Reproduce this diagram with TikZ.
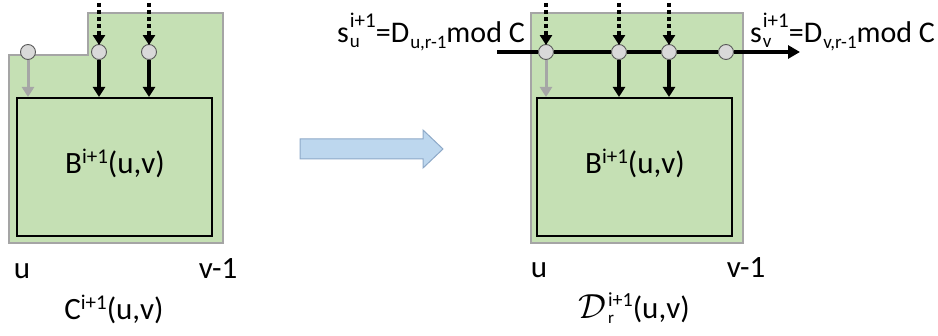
\documentclass[tikz,border=0pt]{standalone}
\usepackage{graphicx}
\usepackage{fontspec}
\setmainfont{Carlito}
\usetikzlibrary{arrows.meta}
\definecolor{grn}{HTML}{C5E0B4}
\definecolor{grnedge}{HTML}{A5A5A5}
\definecolor{circfill}{HTML}{D9D9D9}
\definecolor{circedge}{HTML}{595959}
\definecolor{arrfill}{HTML}{BDD7EE}
\definecolor{arredge}{HTML}{8EA9C8}
\definecolor{gryarr}{HTML}{A6A6A6}
\newcommand{\MainSup}[1]{\raisebox{10pt}{\fontsize{21}{21}\selectfont #1}}
\newcommand{\MainSS}[2]{\ooalign{\raisebox{12pt}{\fontsize{20}{20}\selectfont #1}\cr\raisebox{-5pt}{\fontsize{17}{17}\selectfont #2}}}
\newcommand{\TopSS}[2]{\ooalign{\raisebox{15pt}{\fontsize{21}{21}\selectfont #1}\cr\raisebox{-5pt}{\fontsize{19}{19}\selectfont #2}}}
\newcommand{\TopSub}[1]{\raisebox{-6pt}{\fontsize{19}{19}\selectfont #1}}
\begin{document}
\begin{tikzpicture}[x=1pt,y=-1pt,
  lbl/.style={font=\fontsize{31}{33}\selectfont, inner sep=0pt, anchor=base},
  toplbl/.style={font=\fontsize{30}{32}\selectfont, inner sep=0pt, anchor=base west},
  outer/.style={fill=grn, draw=grnedge, line width=1.2pt},
  inbox/.style={draw=black, line width=2pt, minimum width=195pt, minimum height=138pt, inner sep=0pt},
  dot/.style={circle, fill=circfill, draw=circedge, line width=0.9pt, minimum size=15pt, inner sep=0pt},
  dashar/.style={line width=3.5pt, dash pattern=on 4pt off 3pt, -{Triangle[width=12pt,length=10pt]}, shorten >=-1pt},
  solar/.style={line width=3.5pt, -{Triangle[width=12pt,length=10pt]}},
  grayar/.style={draw=gryarr, line width=3pt, -{Triangle[width=12pt,length=10pt]}},
  hline/.style={line width=3.5pt},
  bigarrow/.style={fill=arrfill, draw=arredge, line width=1pt}
]
\useasboundingbox (0,0) rectangle (938,336);

% ---------- left figure ----------
\draw[outer] (9,55) -- (88,55) -- (88,13) -- (223,13) -- (223,243) -- (9,243) -- cycle;
\node[inbox] (inA) at (114.5,167) {};
\node[dot] (a1) at (28,52) {};
\node[dot] (a2) at (99,52) {};
\node[dot] (a3) at (149,52) {};
\coordinate (ta2) at (99,3);
\coordinate (ta3) at (149,3);
\draw[dashar] (ta2) -- (a2);
\draw[dashar] (ta3) -- (a3);
\draw[grayar] (a1) -- (a1 |- inA.north);
\draw[solar] (a2) -- (a2 |- inA.north);
\draw[solar] (a3) -- (a3 |- inA.north);
\node[lbl] (Btxt) at (115,174) {B\MainSup{i+1}(u,v)};
\node[lbl] (uA) at (22,279) {u};
\node[lbl] (vA) at (218,279) {v-1};
\node[lbl] (CA) at (114,320) {C\MainSup{i+1}(u,v)};

% ---------- big arrow ----------
\draw[bigarrow] (300,139) -- (423,139) -- (423,130) -- (443,149) -- (423,168) -- (423,159) -- (300,159) -- cycle;

% ---------- right figure ----------
\draw[outer] (531,13) rectangle (743,243);
\node[inbox] (inB) at (634.5,167) {};
\node[dot] (b1) at (546,52) {};
\node[dot] (b2) at (619,52) {};
\node[dot] (b3) at (669,52) {};
\node[dot] (b4) at (726,52) {};
\coordinate (sl) at (497,52);
\coordinate (se) at (800,52);
\draw[hline] (sl) -- (b1) -- (b2) -- (b3) -- (b4);
\draw[hline, -{Triangle[width=13pt,length=12pt]}] (b4) -- (se);
\coordinate (tb1) at (546,3);
\coordinate (tb2) at (619,3);
\coordinate (tb3) at (669,3);
\draw[dashar] (tb1) -- (b1);
\draw[dashar] (tb2) -- (b2);
\draw[dashar] (tb3) -- (b3);
\draw[grayar] (b1) -- (b1 |- inB.north);
\draw[solar] (b2) -- (b2 |- inB.north);
\draw[solar] (b3) -- (b3 |- inB.north);
\node[lbl] (Btxt2) at (635,174) {B\MainSup{i+1}(u,v)};
\node[lbl] (uB) at (539,278) {u};
\node[lbl] (vB) at (746,278) {v-1};
\node[lbl] (DB) at (634,319) {\scalebox{1.4}{$\mathcal{D}$}\kern2pt\MainSS{i+1}{r}(u,v)};
\node[toplbl] (sU) at (337,43) {s\kern1pt\TopSS{i+1}{u}=D\kern1pt\TopSub{u,r-1}mod C};
\node[toplbl] (sV) at (750,43) {s\kern1pt\TopSS{i+1}{v}=D\kern1pt\TopSub{v,r-1}mod C};
\end{tikzpicture}
\end{document}
